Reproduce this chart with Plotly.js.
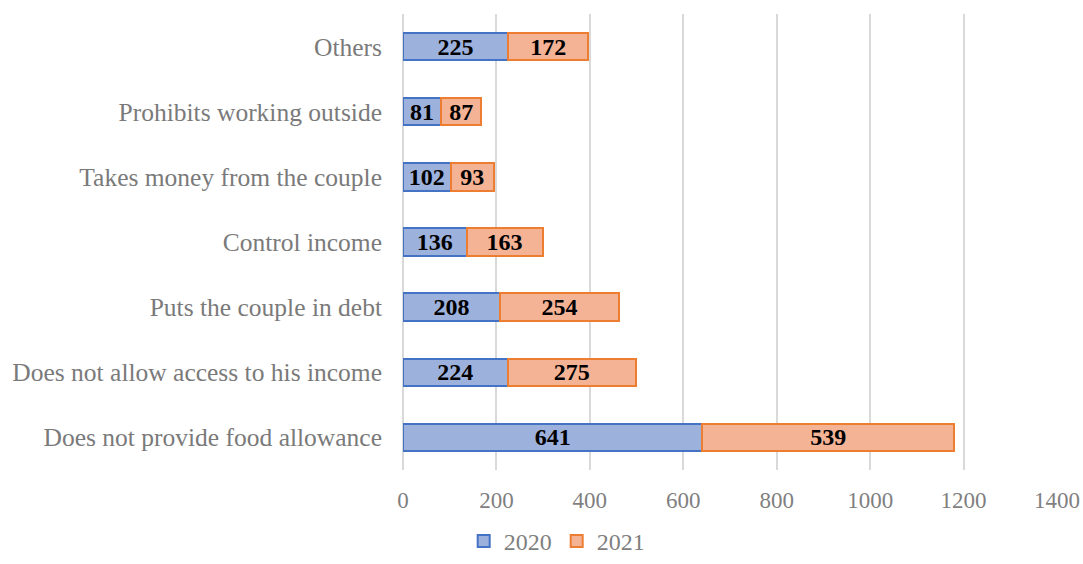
<!DOCTYPE html>
<html><head><meta charset="utf-8">
<script src="https://cdn.plot.ly/plotly-3.0.1.min.js"></script>
<style>html,body{margin:0;padding:0;background:#fff;}#chart{width:1083px;height:564px;}</style>
</head><body><div id="chart"></div>
<script>
const categories = ["Does not provide food allowance","Does not allow access to his income","Puts the couple in debt","Control income","Takes money from the couple","Prohibits working outside","Others"];
const values2020 = [641,224,208,136,102,81,225];
const values2021 = [539,275,254,163,93,87,172];
const xTicks = [0,200,400,600,800,1000,1200,1400];
const serif = "Liberation Serif, Times New Roman, serif";
const common = {type:'bar', orientation:'h', y:categories, width:0.42, textposition:'inside', insidetextanchor:'middle', textangle:0, constraintext:'none', insidetextfont:{family:serif,size:24,color:'#000',weight:700}, hoverinfo:'skip'};
const traces = [
  Object.assign({}, common, {name:'2020', x:values2020, text:values2020.map(String), marker:{color:'#9db1dd', line:{color:'#4472c4', width:2}}}),
  Object.assign({}, common, {name:'2021', x:values2021, text:values2021.map(String), marker:{color:'#f5b396', line:{color:'#ed7d31', width:2}}})
];
const layout = {
  barmode:'stack', width:1083, height:564,
  margin:{l:403, r:26, t:14, b:94},
  paper_bgcolor:'#fff', plot_bgcolor:'#fff',
  font:{family:serif, color:'#7f7f7f'},
  xaxis:{range:[0,1400], tickvals:xTicks, ticktext:xTicks.map(String), showgrid:true, gridcolor:'#d9d9d9', gridwidth:2, zeroline:true, zerolinecolor:'#d9d9d9', zerolinewidth:2, tickfont:{size:23, color:'#7f7f7f', family:serif}, ticks:'', ticklabelstandoff:14, fixedrange:true, automargin:false},
  yaxis:{type:'category', tickfont:{size:25.5, color:'#7a7a7a', family:serif}, ticks:'', ticklabelstandoff:20, showgrid:false, zeroline:false, fixedrange:true, automargin:false},
  showlegend:true,
  legend:{orientation:'h', xref:'paper', x:0.235, xanchor:'center', yref:'container', y:-0.012, yanchor:'bottom', font:{size:24, color:'#7f7f7f', family:serif}, itemwidth:30, traceorder:'normal'},
};
Plotly.newPlot('chart', traces, layout, {displayModeBar:false, staticPlot:true});
</script></body></html>
